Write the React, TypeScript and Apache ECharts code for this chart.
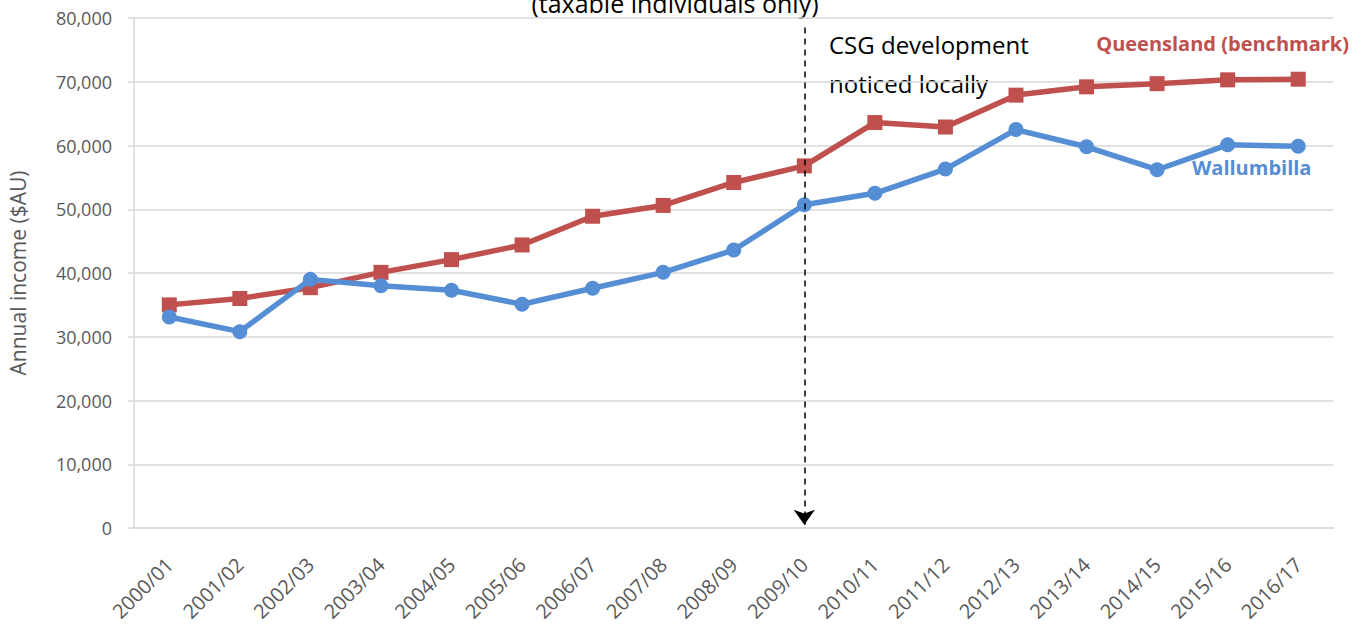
import React, { useEffect, useRef } from "react";
import * as echarts from "echarts";

const categories = [
  "2000/01", "2001/02", "2002/03", "2003/04", "2004/05", "2005/06", "2006/07", "2007/08", "2008/09",
  "2009/10", "2010/11", "2011/12", "2012/13", "2013/14", "2014/15", "2015/16", "2016/17",
];
const queensland = [35000, 36000, 37700, 40100, 42100, 44400, 48900, 50600, 54200, 56800, 63600, 62900, 67900, 69200, 69700, 70300, 70400];
const wallumbilla = [33100, 30800, 39000, 38000, 37300, 35100, 37600, 40100, 43600, 50700, 52500, 56300, 62500, 59800, 56200, 60100, 59900];
const yTicks = { min: 0, max: 80000, interval: 10000 };
const titleText = "(taxable individuals only)";
const yAxisTitle = "Annual income ($AU)";
const annotation = "CSG development\nnoticed locally";
const eventCategory = "2009/10";
const qLabel = "Queensland (benchmark)";
const wLabel = "Wallumbilla";

const FONT = "'Open Sans', 'Liberation Sans', sans-serif";
const RED = "#C0504D";
const BLUE = "#558ED5";

export default function App() {
  const ref = useRef<HTMLDivElement>(null);
  useEffect(() => {
    if (!ref.current) return;
    const chart = echarts.init(ref.current, undefined, { renderer: "svg" });
    chart.setOption({
      animation: false,
      backgroundColor: "#fff",
      textStyle: { fontFamily: FONT },
      grid: { left: 134, right: 31.5, top: 18, bottom: 98, containLabel: false, outerBoundsMode: "none" },
      xAxis: {
        type: "category",
        data: categories,
        boundaryGap: true,
        axisLine: { show: true, lineStyle: { color: "#D9D9D9", width: 1.5 } },
        axisTick: { show: false },
        axisLabel: { rotate: 45, color: "#595959", fontSize: 20, margin: 33, fontFamily: FONT, interval: 0 },
      },
      yAxis: {
        type: "value",
        min: yTicks.min,
        max: yTicks.max,
        interval: yTicks.interval,
        name: yAxisTitle,
        nameLocation: "middle",
        nameGap: 106,
        nameTextStyle: { color: "#595959", fontSize: 21, fontFamily: FONT },
        axisLine: { show: true, lineStyle: { color: "#D9D9D9", width: 1.5 } },
        axisTick: { show: true, length: 6, lineStyle: { color: "#D9D9D9", width: 1.5 } },
        splitLine: { show: true, lineStyle: { color: "#D9D9D9", width: 1.5 } },
        axisLabel: {
          color: "#595959",
          fontSize: 18,
          margin: 22,
          fontFamily: FONT,
          formatter: (v: number) => v.toLocaleString("en-US"),
        },
      },
      series: [
        {
          name: qLabel,
          type: "line",
          data: queensland,
          symbol: "rect",
          symbolSize: 15,
          lineStyle: { color: RED, width: 5.5 },
          itemStyle: { color: RED },
          z: 3,
        },
        {
          name: wLabel,
          type: "line",
          data: wallumbilla,
          symbol: "circle",
          symbolSize: 15,
          lineStyle: { color: BLUE, width: 5.5 },
          itemStyle: { color: BLUE },
          z: 4,
          markLine: {
            silent: true,
            symbol: ["none", "arrow"],
            symbolSize: [16, 15],
            label: { show: false },
            lineStyle: { color: "#000", type: [6, 5], width: 1.5 },
            data: [[{ coord: [eventCategory, 78500] }, { coord: [eventCategory, 500] }]],
          },
        },
      ],
      graphic: [
        {
          type: "text",
          x: 675,
          y: 3,
          style: {
            text: titleText,
            font: `25px ${FONT}`,
            fill: "#000",
            align: "center",
            verticalAlign: "middle",
          },
        },
        {
          type: "text",
          left: 829,
          top: 25,
          style: { text: annotation, font: `24px ${FONT}`, fill: "#000", lineHeight: 39 },
        },
        {
          type: "text",
          right: 16,
          top: 33,
          style: { text: qLabel, font: `bold 20px ${FONT}`, fill: RED },
        },
        {
          type: "text",
          left: 1192,
          top: 157,
          style: { text: wLabel, font: `bold 20px ${FONT}`, fill: BLUE },
        },
      ],
    });
    return () => chart.dispose();
  }, []);
  return <div ref={ref} style={{ width: 1365, height: 626, position: "absolute", left: 0, top: 0 }} />;
}
